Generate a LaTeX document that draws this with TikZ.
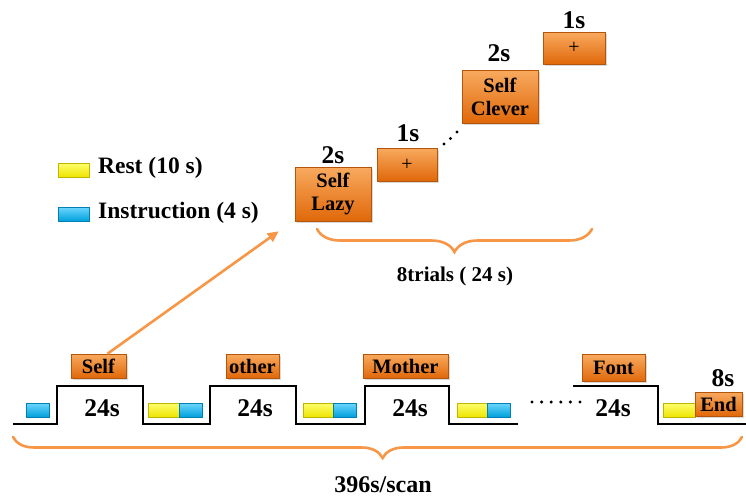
\documentclass[tikz,border=0pt]{standalone}
\usepackage{fontspec}
\setmainfont{Liberation Serif}
\usetikzlibrary{arrows.meta,decorations.pathreplacing,shadows}
\definecolor{otop}{RGB}{248,170,95}
\definecolor{obot}{RGB}{224,104,10}
\definecolor{oline}{RGB}{180,85,10}
\definecolor{oarrow}{RGB}{247,150,70}
\definecolor{ytop}{RGB}{255,255,110}
\definecolor{ybot}{RGB}{238,228,0}
\definecolor{btop}{RGB}{110,215,255}
\definecolor{bbot}{RGB}{0,160,220}
\tikzset{
  obox/.style={draw=oline, line width=0.6pt, top color=otop, bottom color=obot,
    drop shadow={shadow xshift=1.5pt, shadow yshift=-1.5pt, opacity=0.3},
    inner sep=0pt, align=center, font=\bfseries\fontsize{20.5}{23}\selectfont},
  plusbox/.style={obox, font=\fontsize{20}{22}\selectfont},
  yrect/.style={draw=ybot!80!black, line width=0.3pt, top color=ytop, bottom color=ybot,
    minimum height=14pt, inner sep=0pt,
    drop shadow={shadow xshift=1pt, shadow yshift=-1pt, opacity=0.25}},
  brect/.style={draw=bbot!80!black, line width=0.3pt, top color=btop, bottom color=bbot,
    minimum height=14pt, inner sep=0pt,
    drop shadow={shadow xshift=1pt, shadow yshift=-1pt, opacity=0.25}},
  tlabel/.style={font=\bfseries\fontsize{25.5}{28}\selectfont, inner sep=0pt},
  ltext/.style={font=\bfseries\fontsize{23.5}{26}\selectfont, inner sep=0pt, anchor=west},
  obrace/.style={draw=oarrow, line width=2.6pt, line cap=round,
    decorate, decoration={brace, mirror, amplitude=#1}},
  wave/.style={draw=black, line width=2.6pt, line join=miter},
  dotmark/.style={circle, fill=black, inner sep=0pt, minimum size=3.4pt}
}
\begin{document}
\begin{tikzpicture}[x=1pt, y=-1pt]
\useasboundingbox (0,0) rectangle (746,499);

% ---- top trial sequence ----
\node[obox, minimum width=76pt, minimum height=54pt] (lazy) at (333,194) {Self\\Lazy};
\node[plusbox, minimum width=60pt, minimum height=33pt] (plus1) at (407,164.5) {+};
\node[obox, minimum width=76pt, minimum height=53pt] (clever) at (500,96.5) {Self\\Clever};
\node[plusbox, minimum width=62pt, minimum height=32pt] (plus2) at (574,48) {+};

\node[tlabel] (t2a) at (333,155) {2s};
\node[tlabel] (t1a) at (408,133) {1s};
\node[tlabel] (t2b) at (499,53) {2s};
\node[tlabel] (t1b) at (574,20) {1s};

\node[dotmark] (d1) at (444,144) {};
\node[dotmark] (d2) at (450.5,138.5) {};
\node[dotmark] (d3) at (457,132) {};

\coordinate (tbl) at (317,229);
\coordinate (tbr) at (592,229);
\draw[obrace=23pt] (tbl) -- (tbr);
\node[font=\bfseries\fontsize{21}{24}\selectfont, inner sep=0pt] (trials) at (455,276) {8trials ( 24 s)};

% ---- legend ----
\node[yrect, minimum width=31pt] (legy) at (73.5,170) {};
\node[brect, minimum width=31pt] (legb) at (73.5,214) {};
\node[ltext] (rest) at (98,168) {Rest (10 s)};
\node[ltext] (instr) at (98,213) {Instruction (4 s)};

% ---- bottom block design ----
\coordinate (w0) at (13,424);
\coordinate (w1) at (518,424);
\coordinate (w2) at (573,386);
\coordinate (w3) at (746,424);
\draw[wave] (w0) -- (57,424) -- (57,386) -- (143,386) -- (143,424) -- (210,424)
  -- (210,386) -- (296,386) -- (296,424) -- (365,424) -- (365,386) -- (449,386)
  -- (449,424) -- (w1);
\draw[wave] (w2) -- (658,386) -- (658,424) -- (w3);

\node[brect, minimum width=23pt] (b0) at (37.5,410) {};
\node[yrect, minimum width=31pt] (y1) at (163.5,410) {};
\node[brect, minimum width=23pt] (b1) at (190.5,410) {};
\node[yrect, minimum width=30pt] (y2) at (318,410) {};
\node[brect, minimum width=23pt] (b2) at (344.5,410) {};
\node[yrect, minimum width=30pt] (y3) at (472,410) {};
\node[brect, minimum width=23pt] (b3) at (498.5,410) {};
\node[yrect, minimum width=32pt] (y4) at (679,410) {};

\node[obox, minimum width=55pt, minimum height=24pt] (selfb) at (98.5,366) {Self};
\node[obox, minimum width=53pt, minimum height=24pt] (otherb) at (252.5,366) {other};
\node[obox, minimum width=85pt, minimum height=24pt] (motherb) at (405.5,366) {Mother};
\node[obox, minimum width=63pt, minimum height=27pt] (fontb) at (613.5,368) {Font};
\node[obox, minimum width=47pt, minimum height=24pt] (endb) at (718.5,404) {End};
\node[tlabel] (t8) at (723,378) {8s};

\node[tlabel] (s1) at (102,408) {24s};
\node[tlabel] (s2) at (255,408) {24s};
\node[tlabel] (s3) at (410,408) {24s};
\node[tlabel] (s4) at (613,408) {24s};

\foreach \i in {0,...,5}{
  \node[dotmark] (bd\i) at ({532+9.6*\i},402) {};
}

\coordinate (bbl) at (13,437);
\coordinate (bbr) at (742,437);
\draw[obrace=21pt, decoration={aspect=0.507}] (bbl) -- (bbr);
\node[font=\bfseries\fontsize{24}{27}\selectfont, inner sep=0pt] (scan) at (383,485) {396s/scan};

% ---- arrow ----
\draw[draw=oarrow, line width=2.6pt, -{Triangle[length=11pt, width=10pt]}]
  ([xshift=9pt]selfb.north) -- ([xshift=-16pt, yshift=-10pt]lazy.south west);
\end{tikzpicture}
\end{document}
